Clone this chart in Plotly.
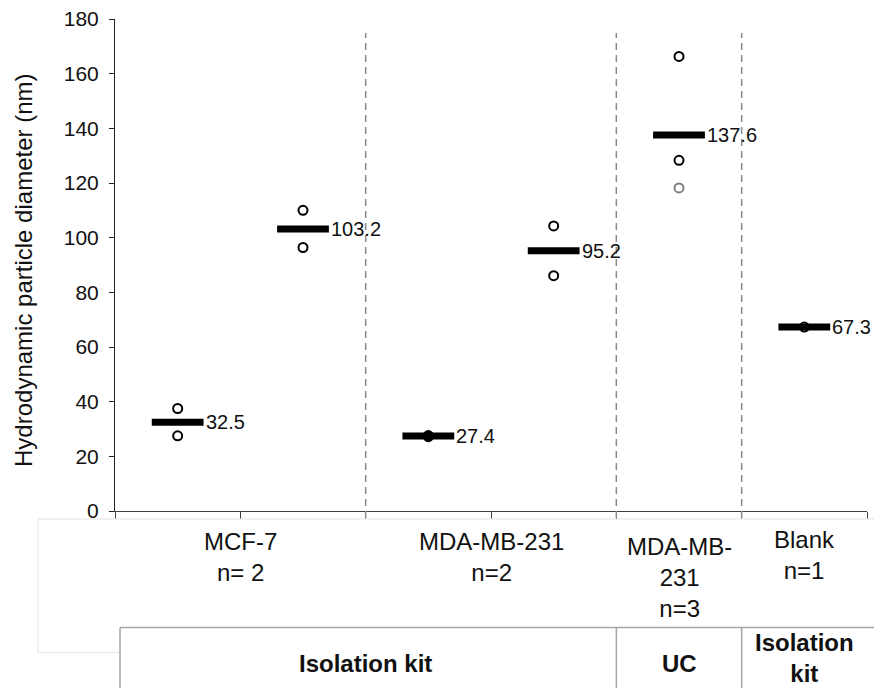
import plotly.graph_objects as go

# ---- data ----
group_positions = [0, 1, 2, 3, 4, 5]
mean_values = [32.5, 103.2, 27.4, 95.2, 137.6, 67.3]
mean_labels = ["32.5", "103.2", "27.4", "95.2", "137.6", "67.3"]
point_values = [
    [37.5, 27.5],
    [110.0, 96.4],
    [27.6, 27.2],
    [104.3, 86.1],
    [166.3, 128.3, 118.2],
    [67.3],
]
point_colors = [
    ["#000000", "#000000"],
    ["#000000", "#000000"],
    ["#000000", "#000000"],
    ["#000000", "#000000"],
    ["#000000", "#000000", "#808080"],
    ["#000000"],
]
category_labels = ["MCF-7<br>n= 2", "MDA-MB-231<br>n=2", "MDA-MB-<br>231<br>n=3", "Blank<br>n=1"]
category_centers = [0.5, 2.5, 4.0, 5.0]
category_label_top = [526, 526, 531, 524]
method_labels = ["<b>Isolation kit</b>", "<b>UC</b>", "<b>Isolation<br>kit</b>"]
method_centers = [1.5, 4.0, 5.0]
method_label_y = [664, 664, 659]
separator_positions = [1.5, 3.5, 4.5]
y_ticks = [0, 20, 40, 60, 80, 100, 120, 140, 160, 180]

FONT = "Liberation Sans, Arial, sans-serif"
W, H = 874, 688
L, T = 115, 17
PLOT_BOTTOM = 511
PLOT_RIGHT = 867
B = H - PLOT_BOTTOM
R = W - PLOT_RIGHT
plot_h = PLOT_BOTTOM - T
plot_w = PLOT_RIGHT - L


def py(px):  # pixel y -> paper y
    return (PLOT_BOTTOM - px) / plot_h


def px_x(px):  # pixel x -> paper x
    return (px - L) / plot_w


fig = go.Figure()

# mean bars
fig.add_trace(go.Scatter(
    x=group_positions, y=mean_values, mode="markers",
    marker=dict(symbol="line-ew", size=37, line=dict(width=7, color="#000000")),
    hoverinfo="y", showlegend=False,
))

# individual points
xs, ys, cs = [], [], []
for pos, vals, cols in zip(group_positions, point_values, point_colors):
    for v, c in zip(vals, cols):
        xs.append(pos)
        ys.append(v)
        cs.append(c)
fig.add_trace(go.Scatter(
    x=xs, y=ys, mode="markers",
    marker=dict(symbol="circle-open", size=9, color=cs, line=dict(width=2, color=cs)),
    showlegend=False,
))

annotations = []
# mean labels
for pos, m, lab in zip(group_positions, mean_values, mean_labels):
    annotations.append(dict(x=pos, y=m, xref="x", yref="y", text=lab, showarrow=False,
                            xanchor="left", yanchor="middle", xshift=26,
                            font=dict(family=FONT, size=20, color="#111111")))

# category labels (below the axis)
for c, lab, top in zip(category_centers, category_labels, category_label_top):
    annotations.append(dict(x=c, y=py(top), xref="x", yref="paper", text=lab,
                            showarrow=False, xanchor="center", yanchor="top",
                            font=dict(family=FONT, size=24, color="#111111")))

# method labels (table)
for c, lab, yy in zip(method_centers, method_labels, method_label_y):
    annotations.append(dict(x=c, y=py(yy), xref="x", yref="paper", text=lab,
                            showarrow=False, xanchor="center", yanchor="middle",
                            font=dict(family=FONT, size=24, color="#111111")))

# y-axis title
annotations.append(dict(x=px_x(24), y=py(270), xref="paper", yref="paper",
                        text="Hydrodynamic particle diameter (nm)", textangle=-90,
                        showarrow=False, xanchor="center", yanchor="middle",
                        font=dict(family=FONT, size=24, color="#111111")))

shapes = []
# dashed separators
for s in separator_positions:
    shapes.append(dict(type="line", xref="x", yref="paper", x0=s, x1=s,
                       y0=py(518), y1=py(31),
                       line=dict(color="#8a8a8a", width=1.5, dash="7px,5px")))
# faint cell borders
shapes.append(dict(type="line", xref="paper", yref="paper", x0=px_x(38), x1=px_x(874),
                   y0=py(519), y1=py(519), line=dict(color="#e3e3e3", width=1)))
shapes.append(dict(type="line", xref="paper", yref="paper", x0=px_x(38), x1=px_x(38),
                   y0=py(519), y1=py(653), line=dict(color="#e3e3e3", width=1)))
shapes.append(dict(type="line", xref="paper", yref="paper", x0=px_x(38), x1=px_x(120),
                   y0=py(653), y1=py(653), line=dict(color="#e3e3e3", width=1)))
# table lines
shapes.append(dict(type="line", xref="paper", yref="paper", x0=px_x(120), x1=px_x(874),
                   y0=py(628), y1=py(628), line=dict(color="#a6a6a6", width=1.5)))
shapes.append(dict(type="line", xref="paper", yref="paper", x0=px_x(120), x1=px_x(120),
                   y0=py(628), y1=py(690), line=dict(color="#a6a6a6", width=1.5)))
for s in [3.5, 4.5]:
    shapes.append(dict(type="line", xref="x", yref="paper", x0=s, x1=s,
                       y0=py(628), y1=py(690), line=dict(color="#a6a6a6", width=1.5)))

fig.update_layout(
    width=W, height=H,
    margin=dict(l=L, r=R, t=T, b=B, pad=0),
    plot_bgcolor="white", paper_bgcolor="white",
    font=dict(family=FONT, color="#111111"),
    annotations=annotations, shapes=shapes,
    xaxis=dict(range=[-0.5, 5.5], showgrid=False, zeroline=False,
               tickmode="array", tickvals=[-0.5, 0.5, 1.5, 2.5, 3.5, 4.5, 5.5],
               ticktext=[""] * 7, ticks="outside", ticklen=7, tickcolor="#404040",
               showline=True, linecolor="#404040", linewidth=1),
    yaxis=dict(range=[0, 180], showgrid=False, zeroline=False,
               tickmode="array", tickvals=y_ticks, ticks="outside", ticklen=5,
               tickcolor="#222222", showline=True, linecolor="#222222", linewidth=1,
               tickfont=dict(family=FONT, size=21, color="#111111"),
               ticklabelstandoff=6, ticklabeloverflow="allow"),
)

fig.write_html(
    "out.html",
    config={"displayModeBar": False},
    post_script="document.body.style.margin='0px';document.body.style.overflow='hidden';",
)
